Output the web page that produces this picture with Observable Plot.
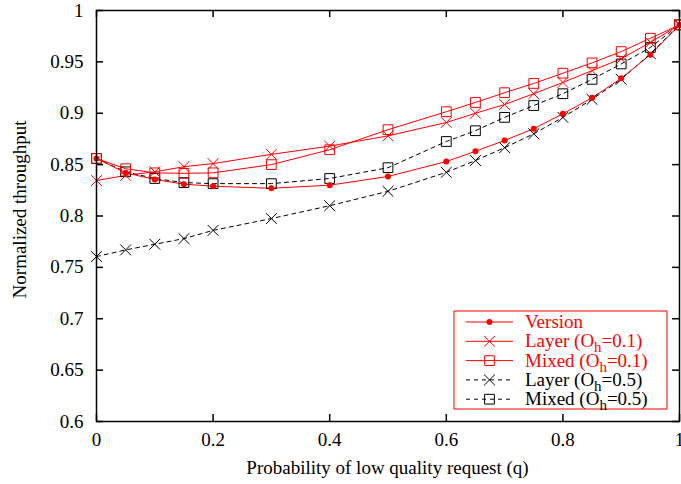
<!DOCTYPE html>
<html>
<head>
<meta charset="utf-8">
<script src="https://cdn.jsdelivr.net/npm/d3@7"></script>
<script src="https://cdn.jsdelivr.net/npm/@observablehq/plot@0.6"></script>
<style>
  html, body { margin: 0; padding: 0; background: #fff; }
  svg { display: block; }
</style>
</head>
<body>
<div id="chart"></div>
<script>
const q = [0, 0.05, 0.1, 0.15, 0.2, 0.3, 0.4, 0.5, 0.6, 0.65, 0.7, 0.75, 0.8, 0.85, 0.9, 0.95, 1];
const version = [0.856, 0.842, 0.8355, 0.831, 0.829, 0.827, 0.830, 0.8385, 0.853, 0.863, 0.8735, 0.885, 0.8995, 0.915, 0.934, 0.957, 0.986];
const layer01 = [0.8345, 0.8395, 0.843, 0.848, 0.851, 0.860, 0.868, 0.878, 0.891, 0.900, 0.9085, 0.919, 0.930, 0.9415, 0.953, 0.969, 0.986];
const mixed01 = [0.856, 0.846, 0.842, 0.8415, 0.842, 0.850, 0.8645, 0.884, 0.9015, 0.9105, 0.920, 0.929, 0.939, 0.949, 0.960, 0.973, 0.986];
const layer05 = [0.7605, 0.767, 0.7725, 0.778, 0.786, 0.7975, 0.810, 0.824, 0.8425, 0.854, 0.8665, 0.880, 0.896, 0.9135, 0.933, 0.958, 0.986];
const mixed05 = [0.856, 0.843, 0.8365, 0.8325, 0.8315, 0.8315, 0.8365, 0.847, 0.8725, 0.883, 0.896, 0.9075, 0.919, 0.933, 0.948, 0.964, 0.986];

const xTicks = [0, 0.2, 0.4, 0.6, 0.8, 1];
const yTicks = [0.6, 0.65, 0.7, 0.75, 0.8, 0.85, 0.9, 0.95, 1];
const xTickLabels = ["0", "0.2", "0.4", "0.6", "0.8", "1"];
const yTickLabels = ["0.6", "0.65", "0.7", "0.75", "0.8", "0.85", "0.9", "0.95", "1"];
const xLabel = "Probability of low quality request (q)";
const yLabel = "Normalized throughput";

const legendLabels = [
  {pre: "Version", sub: "", post: ""},
  {pre: "Layer (O", sub: "h", post: "=0.1)"},
  {pre: "Mixed (O", sub: "h", post: "=0.1)"},
  {pre: "Layer (O", sub: "h", post: "=0.5)"},
  {pre: "Mixed (O", sub: "h", post: "=0.5)"}
];

const RED = "#ff0000";
const BLACK = "#000000";
const FONT = "'Liberation Serif', 'Times New Roman', serif";

const series = [
  {key: "version", values: version, color: RED, dash: null, symbol: "circle"},
  {key: "layer01", values: layer01, color: RED, dash: null, symbol: "times"},
  {key: "mixed01", values: mixed01, color: RED, dash: null, symbol: "square"},
  {key: "layer05", values: layer05, color: BLACK, dash: "4,4", symbol: "times"},
  {key: "mixed05", values: mixed05, color: BLACK, dash: "4,4", symbol: "square"}
];
const rows = s => q.map((x, i) => ({x, y: s.values[i]}));

const W = 681, H = 484;
const mL = 96, mR = 2, mT = 10, mB = 63;
const frameW = W - mL - mR, frameH = H - mT - mB;
const TICK = 7;

const marks = [];
const order = [3, 4, 0, 1, 2];
for (const i of order) {
  const s = series[i];
  marks.push(Plot.line(rows(s), {x: "x", y: "y", stroke: s.color, strokeWidth: 1, strokeDasharray: s.dash || undefined}));
}
for (const i of order) {
  const s = series[i];
  if (s.symbol === "circle") {
    marks.push(Plot.dot(rows(s), {x: "x", y: "y", r: 3, fill: s.color, stroke: "none"}));
  } else if (s.symbol === "times") {
    marks.push(Plot.dot(rows(s), {x: "x", y: "y", symbol: "times", r: 5, stroke: s.color, strokeWidth: 1}));
  } else {
    marks.push(Plot.dot(rows(s), {x: "x", y: "y", symbol: "square", r: 5.5, stroke: s.color, fill: "none", strokeWidth: 1}));
  }
}

marks.push(Plot.tickX(xTicks, {x: d => d, insetTop: frameH - TICK, stroke: BLACK, strokeWidth: 1.5}));
marks.push(Plot.tickX(xTicks, {x: d => d, insetBottom: frameH - TICK, stroke: BLACK, strokeWidth: 1.5}));
marks.push(Plot.tickY(yTicks, {y: d => d, insetRight: frameW - TICK, stroke: BLACK, strokeWidth: 1.5}));
marks.push(Plot.tickY(yTicks, {y: d => d, insetLeft: frameW - TICK, stroke: BLACK, strokeWidth: 1.5}));
marks.push(Plot.frame({stroke: BLACK, strokeWidth: 1.5}));

marks.push(Plot.axisX(xTicks, {
  tickSize: 0, tickPadding: 11, tickFormat: (d, i) => xTickLabels[i], fontSize: 19, label: null
}));
marks.push(Plot.axisY(yTicks, {
  tickSize: 0, tickPadding: 13, tickFormat: (d, i) => yTickLabels[i], fontSize: 19, label: null
}));

const plot = Plot.plot({
  width: W, height: H,
  marginLeft: mL, marginRight: mR, marginTop: mT, marginBottom: mB,
  style: {fontFamily: FONT, fontSize: "19px", color: "#000", background: "#fff"},
  x: {domain: [0, 1], label: null},
  y: {domain: [0.6, 1], label: null},
  marks
});

document.getElementById("chart").appendChild(plot);

const svg = d3.select(plot);
svg.append("text").attr("x", mL + frameW / 2).attr("y", H - 10)
  .attr("text-anchor", "middle").attr("font-family", FONT).attr("font-size", 19).attr("fill", BLACK)
  .text(xLabel);
svg.append("text").attr("transform", `translate(26,${mT + frameH / 2 - 6}) rotate(-90)`)
  .attr("text-anchor", "middle").attr("font-family", FONT).attr("font-size", 19).attr("fill", BLACK)
  .text(yLabel);

const lg = svg.append("g").attr("font-family", FONT).attr("text-anchor", "start");
const boxX = 454, boxY = 311, boxW = 213, boxH = 98;
lg.append("rect").attr("x", boxX).attr("y", boxY).attr("width", boxW).attr("height", boxH)
  .attr("fill", "#fff").attr("stroke", RED).attr("stroke-width", 1);
const rowH = 19.3;
series.forEach((s, i) => {
  const cy = boxY + 11 + i * rowH;
  const x1 = boxX + 12, x2 = boxX + 59, cx = (x1 + x2) / 2;
  lg.append("line").attr("x1", x1).attr("x2", x2).attr("y1", cy).attr("y2", cy)
    .attr("stroke", s.color).attr("stroke-width", 1).attr("stroke-dasharray", s.dash);
  if (s.symbol === "circle") {
    lg.append("circle").attr("cx", cx).attr("cy", cy).attr("r", 3).attr("fill", s.color);
  } else {
    const type = s.symbol === "times" ? d3.symbolTimes : d3.symbolSquare;
    const r = s.symbol === "times" ? 5 : 5.5;
    lg.append("path").attr("transform", `translate(${cx},${cy})`)
      .attr("d", d3.symbol(type, r * r * Math.PI)())
      .attr("fill", "none").attr("stroke", s.color).attr("stroke-width", 1);
  }
  const L = legendLabels[i];
  const t = lg.append("text").attr("x", boxX + 71).attr("y", cy + 6).attr("font-size", 19).attr("fill", s.color);
  t.append("tspan").text(L.pre);
  if (L.sub) {
    t.append("tspan").attr("dy", 5).attr("font-size", 15).text(L.sub);
    t.append("tspan").attr("dy", -5).text(L.post);
  }
});
</script>
</body>
</html>
